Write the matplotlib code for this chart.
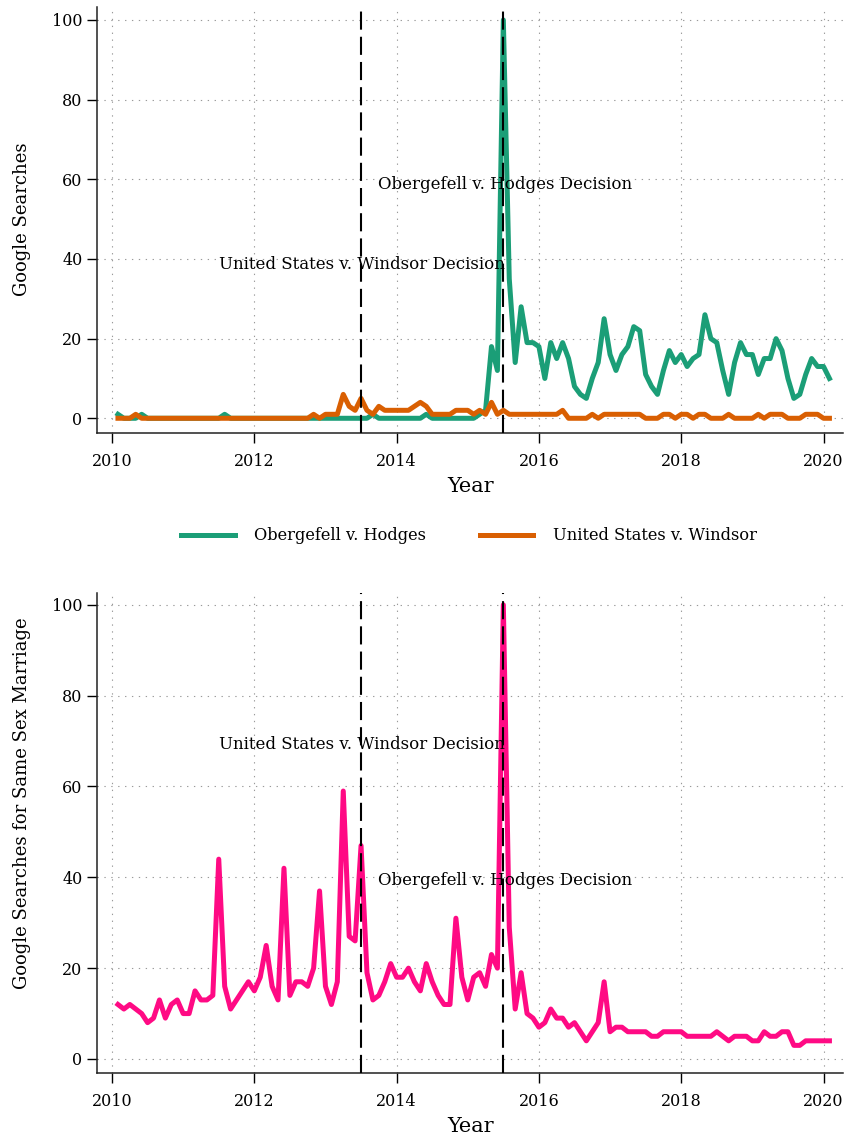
import matplotlib
matplotlib.use("Agg")
import matplotlib.pyplot as plt
import numpy as np
import pandas as pd

plt.rcParams['font.family'] = ['DejaVu Serif']

# monthly google trends, Jan 2010 - Jan 2020
months = pd.period_range('2010-01', '2020-01', freq='M')

obergefell = [
    1, 0, 0, 0, 1, 0, 0, 0, 0, 0, 0, 0,          # 2010
    0, 0, 0, 0, 0, 0, 1, 0, 0, 0, 0, 0,          # 2011
    0, 0, 0, 0, 0, 0, 0, 0, 0, 0, 0, 0,          # 2012
    0, 0, 0, 0, 0, 0, 0, 1, 0, 0, 0, 0,          # 2013
    0, 0, 0, 0, 1, 0, 0, 0, 0, 0, 0, 0,          # 2014
    0, 1, 2, 18, 12, 100, 35, 14, 28, 19, 19, 18,  # 2015
    10, 19, 15, 19, 15, 8, 6, 5, 10, 14, 25, 16,   # 2016
    12, 16, 18, 23, 22, 11, 8, 6, 12, 17, 14, 16,  # 2017
    13, 15, 16, 26, 20, 19, 12, 6, 14, 19, 16, 16,  # 2018
    11, 15, 15, 20, 17, 10, 5, 6, 11, 15, 13, 13,  # 2019
    10,                                            # 2020
]

windsor = [
    0, 0, 0, 1, 0, 0, 0, 0, 0, 0, 0, 0,   # 2010
    0, 0, 0, 0, 0, 0, 0, 0, 0, 0, 0, 0,   # 2011
    0, 0, 0, 0, 0, 0, 0, 0, 0, 1, 0, 1,   # 2012
    1, 1, 6, 3, 2, 5, 2, 1, 3, 2, 2, 2,   # 2013
    2, 2, 3, 4, 3, 1, 1, 1, 1, 2, 2, 2,   # 2014
    1, 2, 1, 4, 1, 2, 1, 1, 1, 1, 1, 1,   # 2015
    1, 1, 1, 2, 0, 0, 0, 0, 1, 0, 1, 1,   # 2016
    1, 1, 1, 1, 1, 0, 0, 0, 1, 1, 0, 1,   # 2017
    1, 0, 1, 1, 0, 0, 0, 1, 0, 0, 0, 0,   # 2018
    1, 0, 1, 1, 1, 0, 0, 0, 1, 1, 1, 0,   # 2019
    0,                                    # 2020
]

same_sex = [
    12, 11, 12, 11, 10, 8, 9, 13, 9, 12, 13, 10,     # 2010
    10, 15, 13, 13, 14, 44, 16, 11, 13, 15, 17, 15,  # 2011
    18, 25, 16, 13, 42, 14, 17, 17, 16, 20, 37, 16,  # 2012
    12, 17, 59, 27, 26, 47, 19, 13, 14, 17, 21, 18,  # 2013
    18, 20, 17, 15, 21, 17, 14, 12, 12, 31, 18, 13,  # 2014
    18, 19, 16, 23, 20, 100, 29, 11, 19, 10, 9, 7,   # 2015
    8, 11, 9, 9, 7, 8, 6, 4, 6, 8, 17, 6,            # 2016
    7, 7, 6, 6, 6, 6, 5, 5, 6, 6, 6, 6,              # 2017
    5, 5, 5, 5, 5, 6, 5, 4, 5, 5, 5, 4,              # 2018
    4, 6, 5, 5, 6, 6, 3, 3, 4, 4, 4, 4,              # 2019
    4,                                               # 2020
]

decisions = {'windsor': 2013.5, 'obergefell': 2015.5}
year_ticks = [2010, 2012, 2014, 2016, 2018, 2020]
y_ticks = [0, 20, 40, 60, 80, 100]

# stata style: year + month/12
t = months.year + months.month / 12

W, H = 847, 1141
fig = plt.figure(figsize=(W / 100, H / 100), dpi=100)


def px_axes(left, top, right, bottom):
    return fig.add_axes([left / W, 1 - bottom / H, (right - left) / W, (bottom - top) / H])


def style(ax, ylim):
    ax.set_xlim(2009.793, 2020.274)
    ax.set_ylim(*ylim)
    ax.set_xticks(year_ticks)
    ax.set_yticks(y_ticks)
    ax.tick_params(direction='out', length=7, width=1, labelsize=11.5, colors='black')
    ax.tick_params(axis='y', pad=3.6)
    ax.tick_params(axis='x', pad=7)
    for s in ['top', 'right']:
        ax.spines[s].set_visible(False)
    for s in ['left', 'bottom']:
        ax.spines[s].set_linewidth(1.1)
        ax.spines[s].set_color('#222222')
    ax.grid(True, color='#9a9a9a', linestyle=(0, (1.2, 5)), linewidth=0.8)
    ax.set_axisbelow(True)
    for x in decisions.values():
        ax.axvline(x, color='black', linewidth=1.5, linestyle=(0, (8.7, 3.4)), zorder=4)


# top panel
ax1 = px_axes(97.3, 7, 843, 433.3)
style(ax1, (-3.77, 103.26))
ax1.plot(t, obergefell, color='#1b9e77', linewidth=3.6, label='Obergefell v. Hodges', zorder=3)
ax1.plot(t, windsor, color='#d95f02', linewidth=3.6, label='United States v. Windsor', zorder=3)
ax1.text(2013.74, 58.8, 'Obergefell v. Hodges Decision', fontsize=12, ha='left', va='center', zorder=5)
ax1.text(2011.50, 38.7, 'United States v. Windsor Decision', fontsize=12, ha='left', va='center', zorder=5)

# bottom panel
ax2 = px_axes(97.3, 593, 843, 1073.3)
style(ax2, (-3.15, 102.6))
ax2.plot(t, same_sex, color='#ff0a84', linewidth=3.6, zorder=3)
ax2.text(2011.50, 69.2, 'United States v. Windsor Decision', fontsize=12, ha='left', va='center', zorder=5)
ax2.text(2013.74, 39.2, 'Obergefell v. Hodges Decision', fontsize=12, ha='left', va='center', zorder=5)

# axis titles
fig.text(22 / W, 1 - 219 / H, 'Google Searches', rotation=90, ha='center', va='center', fontsize=13)
fig.text(22 / W, 1 - 803 / H, 'Google Searches for Same Sex Marriage', rotation=90,
         ha='center', va='center', fontsize=13)
fig.text(471 / W, 1 - 487 / H, 'Year', ha='center', va='center', fontsize=15)
fig.text(471 / W, 1 - 1127 / H, 'Year', ha='center', va='center', fontsize=15)

handles, labels = ax1.get_legend_handles_labels()
fig.legend(handles, labels, loc='center', bbox_to_anchor=(469 / W, 1 - 536 / H), ncol=2,
           frameon=False, fontsize=11.7, handlelength=3.3, handletextpad=1.2, columnspacing=3.3)

fig.savefig('out.png', dpi=100)
